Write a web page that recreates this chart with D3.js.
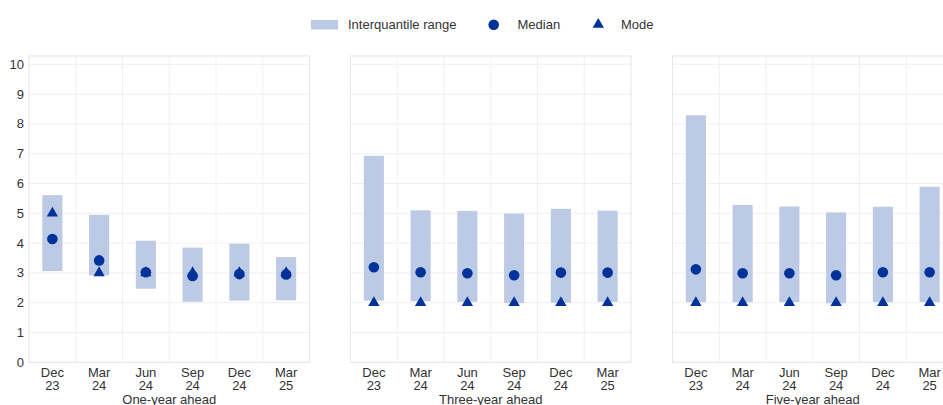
<!DOCTYPE html>
<html><head><meta charset="utf-8">
<script src="https://cdn.jsdelivr.net/npm/d3@7"></script>
<style>body{margin:0;background:#fff}svg{display:block;font-family:"Liberation Sans",Arial,sans-serif}</style>
</head><body><svg id="c" width="943" height="405"></svg>
<script>
const categories = ["Dec 23","Mar 24","Jun 24","Sep 24","Dec 24","Mar 25"];
const panelTitles = ["One-year ahead","Three-year ahead","Five-year ahead"];
const yTicks = [0,1,2,3,4,5,6,7,8,9,10];
const legendLabels = ["Interquantile range","Median","Mode"];

const iqrLowOne    = [3.06, 2.92, 2.47, 2.03, 2.07, 2.08];
const iqrHighOne   = [5.61, 4.95, 4.08, 3.85, 3.98, 3.53];
const medianOne    = [4.14, 3.42, 3.02, 2.90, 2.96, 2.95];
const modeOne      = [5.0, 3.0, 3.0, 3.0, 3.0, 3.0];

const iqrLowThree  = [2.07, 2.05, 2.03, 1.99, 2.0, 2.03];
const iqrHighThree = [6.93, 5.10, 5.08, 4.99, 5.15, 5.09];
const medianThree  = [3.19, 3.02, 2.99, 2.92, 3.01, 3.01];
const modeThree    = [2.0, 2.0, 2.0, 2.0, 2.0, 2.0];

const iqrLowFive   = [2.02, 2.02, 2.02, 1.98, 2.02, 2.02];
const iqrHighFive  = [8.29, 5.28, 5.23, 5.03, 5.22, 5.89];
const medianFive   = [3.12, 2.99, 2.99, 2.92, 3.02, 3.02];
const modeFive     = [2.0, 2.0, 2.0, 2.0, 2.0, 2.0];

const panelData = [
  {low: iqrLowOne, high: iqrHighOne, median: medianOne, mode: modeOne},
  {low: iqrLowThree, high: iqrHighThree, median: medianThree, mode: modeThree},
  {low: iqrLowFive, high: iqrHighFive, median: medianFive, mode: modeFive}
];

const BAR = "#bdcae6", DARK = "#003299", TXT = "#333", GRID = "#f0f0f0", BORDER = "#e6e6e6";
const svg = d3.select("#c");
const plotTop = 56, plotBottom = 362.3, pw = 280.5;
const lefts = [29, 350.5, 672.5];
const y = d3.scaleLinear().domain([0, 10.28]).range([plotBottom, plotTop]);
const tri = d3.symbol().type(d3.symbolTriangle).size(56);

panelData.forEach((pd, i) => {
  const x = d3.scaleBand().domain(categories).range([lefts[i], lefts[i] + pw]).padding(0);
  const g = svg.append("g");
  const bw = x.bandwidth() * 0.43;
  g.selectAll(".hg").data(yTicks).join("line")
    .attr("x1", lefts[i]).attr("x2", lefts[i] + pw)
    .attr("y1", d => y(d)).attr("y2", d => y(d))
    .attr("stroke", GRID).attr("stroke-width", 1);
  g.selectAll(".vg").data(categories.slice(1)).join("line")
    .attr("x1", d => x(d)).attr("x2", d => x(d))
    .attr("y1", plotTop).attr("y2", plotBottom)
    .attr("stroke", GRID).attr("stroke-width", 1);
  g.append("rect").attr("x", lefts[i]).attr("y", plotTop).attr("width", pw).attr("height", plotBottom - plotTop)
    .attr("fill", "none").attr("stroke", BORDER).attr("stroke-width", 1);
  g.selectAll(".bar").data(categories).join("rect")
    .attr("x", (d) => x(d) + x.bandwidth() / 2 - bw / 2)
    .attr("width", bw)
    .attr("y", (d, j) => y(pd.high[j]))
    .attr("height", (d, j) => y(pd.low[j]) - y(pd.high[j]))
    .attr("fill", BAR);
  g.selectAll(".mode").data(categories).join("path")
    .attr("d", tri)
    .attr("transform", (d, j) => `translate(${x(d) + x.bandwidth() / 2},${y(pd.mode[j])})`)
    .attr("fill", DARK);
  g.selectAll(".med").data(categories).join("circle")
    .attr("cx", d => x(d) + x.bandwidth() / 2)
    .attr("cy", (d, j) => y(pd.median[j]))
    .attr("r", 5.3).attr("fill", DARK);
  const xl = g.selectAll(".xl").data(categories).join("text")
    .attr("text-anchor", "middle").attr("font-size", 13).attr("fill", TXT);
  xl.append("tspan").attr("x", d => x(d) + x.bandwidth() / 2).attr("y", 376.5).text(d => d.split(" ")[0]);
  xl.append("tspan").attr("x", d => x(d) + x.bandwidth() / 2).attr("y", 390).text(d => d.split(" ")[1]);
  g.append("text").attr("x", lefts[i] + pw / 2).attr("y", 403.5).attr("text-anchor", "middle")
    .attr("font-size", 13).attr("fill", TXT).text(panelTitles[i]);
  if (i === 0) {
    g.selectAll(".yl").data(yTicks).join("text")
      .attr("x", 24).attr("y", d => y(d)).attr("dy", "0.35em")
      .attr("text-anchor", "end").attr("font-size", 13).attr("fill", TXT).text(d => d);
  }
});

const lg = svg.append("g");
lg.append("rect").attr("x", 311).attr("y", 20).attr("width", 27).attr("height", 9.5).attr("fill", BAR);
lg.append("text").attr("x", 348).attr("y", 29).attr("font-size", 13).attr("fill", TXT).text(legendLabels[0]);
lg.append("circle").attr("cx", 493.7).attr("cy", 24.7).attr("r", 5.3).attr("fill", DARK);
lg.append("text").attr("x", 517.5).attr("y", 29).attr("font-size", 13).attr("fill", TXT).text(legendLabels[1]);
lg.append("path").attr("d", tri).attr("transform", "translate(598.3,24.5)").attr("fill", DARK);
lg.append("text").attr("x", 621).attr("y", 29).attr("font-size", 13).attr("fill", TXT).text(legendLabels[2]);
</script></body></html>
